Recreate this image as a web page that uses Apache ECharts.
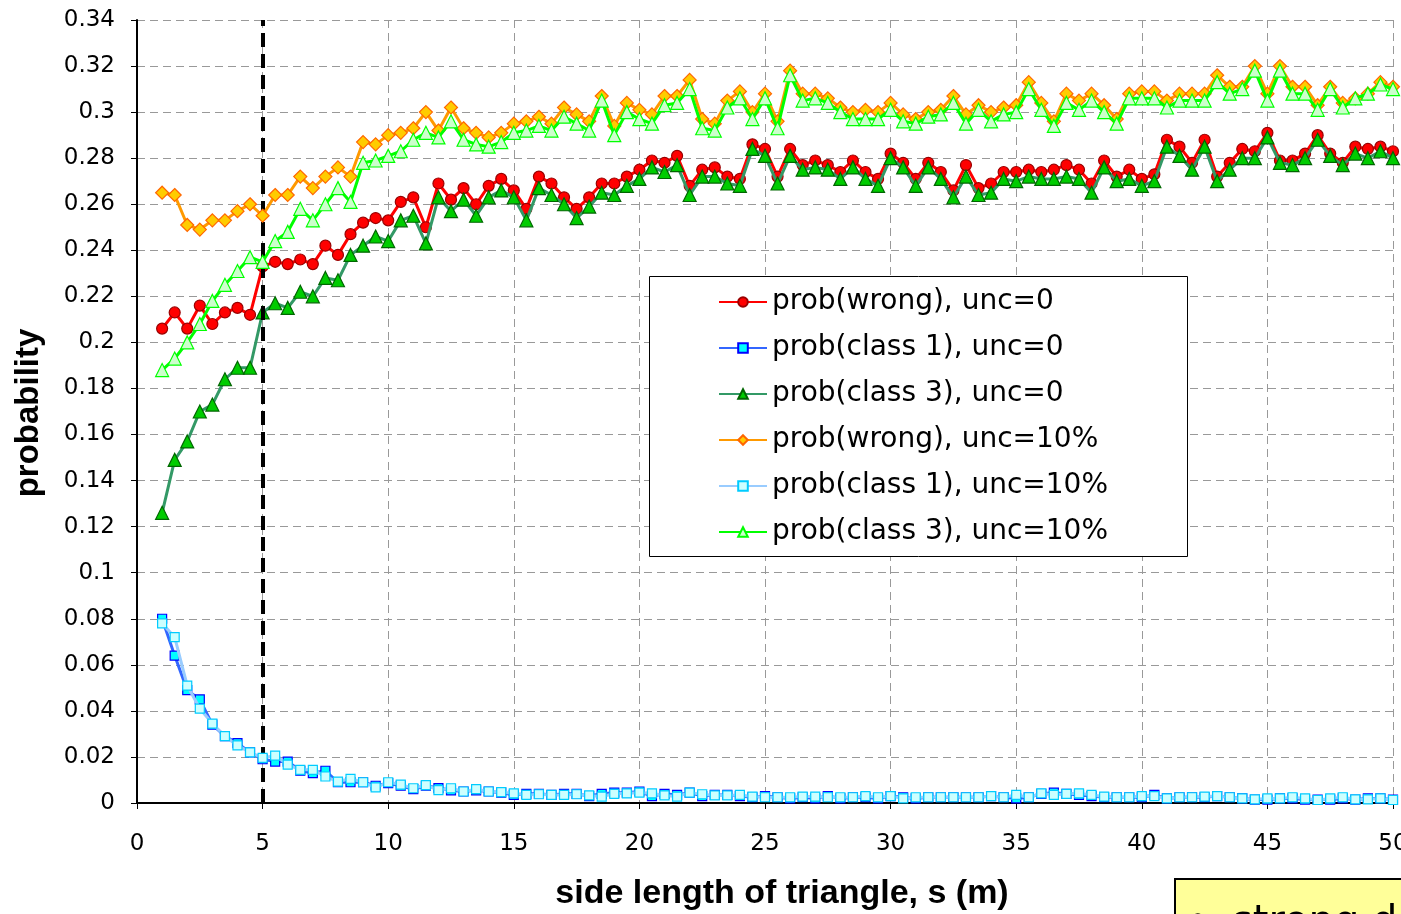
<!DOCTYPE html>
<html>
<head>
<meta charset="utf-8">
<script src="https://cdn.jsdelivr.net/npm/echarts@6/dist/echarts.min.js"></script>
<style>
html,body{margin:0;padding:0;background:#fff;overflow:hidden;}
#chart{width:1401px;height:914px;}
</style>
</head>
<body>
<div id="chart"></div>
<script>
// side length s (m)
var sideLength = [
  1,1.5,2,2.5,3,3.5,4,4.5,5,5.5,
  6,6.5,7,7.5,8,8.5,9,9.5,10,10.5,
  11,11.5,12,12.5,13,13.5,14,14.5,15,15.5,
  16,16.5,17,17.5,18,18.5,19,19.5,20,20.5,
  21,21.5,22,22.5,23,23.5,24,24.5,25,25.5,
  26,26.5,27,27.5,28,28.5,29,29.5,30,30.5,
  31,31.5,32,32.5,33,33.5,34,34.5,35,35.5,
  36,36.5,37,37.5,38,38.5,39,39.5,40,40.5,
  41,41.5,42,42.5,43,43.5,44,44.5,45,45.5,
  46,46.5,47,47.5,48,48.5,49,49.5,50
];
var wrongUnc0 = [
  0.206,0.213,0.206,0.216,0.208,0.213,0.215,0.212,0.233,0.235,
  0.234,0.236,0.234,0.242,0.238,0.247,0.252,0.254,0.253,0.261,
  0.263,0.250,0.269,0.262,0.267,0.260,0.268,0.271,0.266,0.258,
  0.272,0.269,0.263,0.258,0.263,0.269,0.269,0.272,0.275,0.279,
  0.278,0.281,0.268,0.275,0.276,0.272,0.271,0.286,0.284,0.272,
  0.284,0.277,0.279,0.277,0.274,0.279,0.274,0.271,0.282,0.278,
  0.271,0.278,0.274,0.266,0.277,0.267,0.269,0.274,0.274,0.275,
  0.274,0.275,0.277,0.275,0.269,0.279,0.272,0.275,0.271,0.273,
  0.288,0.285,0.278,0.288,0.272,0.278,0.284,0.283,0.291,0.279,
  0.279,0.282,0.290,0.282,0.278,0.285,0.284,0.285,0.283
];
var class1Unc0 = [
  0.080,0.064,0.049,0.045,0.034,0.029,0.026,0.022,0.019,0.018,
  0.018,0.014,0.013,0.014,0.009,0.009,0.009,0.0075,0.0086,0.0075,
  0.006,0.0075,0.0065,0.0055,0.005,0.0055,0.005,0.0045,0.0035,0.004,
  0.004,0.0035,0.004,0.004,0.003,0.004,0.0045,0.0045,0.005,0.003,
  0.004,0.0035,0.0045,0.003,0.0035,0.0035,0.003,0.0025,0.003,0.0025,
  0.002,0.0025,0.002,0.003,0.002,0.0025,0.0025,0.002,0.003,0.0025,
  0.002,0.0025,0.0025,0.0025,0.0025,0.0025,0.003,0.0025,0.002,0.0025,
  0.004,0.0045,0.004,0.0035,0.003,0.0025,0.0025,0.0025,0.0025,0.0035,
  0.002,0.0025,0.0025,0.0025,0.003,0.0025,0.002,0.0015,0.0015,0.002,
  0.002,0.0015,0.0015,0.0015,0.002,0.0015,0.002,0.002,0.0015
];
var class3Unc0 = [
  0.126,0.149,0.157,0.170,0.173,0.184,0.189,0.189,0.213,0.217,
  0.215,0.222,0.220,0.228,0.227,0.238,0.242,0.246,0.244,0.253,
  0.255,0.243,0.263,0.257,0.262,0.255,0.263,0.266,0.263,0.253,
  0.267,0.264,0.260,0.254,0.259,0.265,0.264,0.268,0.271,0.276,
  0.274,0.277,0.264,0.272,0.272,0.269,0.268,0.284,0.281,0.269,
  0.281,0.275,0.276,0.275,0.271,0.276,0.271,0.268,0.280,0.276,
  0.268,0.276,0.271,0.263,0.272,0.264,0.265,0.271,0.270,0.272,
  0.271,0.271,0.272,0.271,0.265,0.276,0.270,0.271,0.268,0.270,
  0.285,0.281,0.275,0.285,0.270,0.275,0.280,0.280,0.289,0.278,
  0.277,0.280,0.288,0.281,0.277,0.282,0.280,0.283,0.280
];
var wrongUnc10 = [
  0.265,0.264,0.251,0.249,0.253,0.253,0.257,0.260,0.255,0.264,
  0.264,0.272,0.267,0.272,0.276,0.272,0.287,0.286,0.290,0.291,
  0.293,0.300,0.292,0.302,0.293,0.291,0.289,0.291,0.295,0.296,
  0.298,0.295,0.302,0.299,0.296,0.307,0.294,0.304,0.301,0.299,
  0.307,0.307,0.314,0.297,0.295,0.305,0.309,0.300,0.308,0.296,
  0.318,0.308,0.308,0.306,0.302,0.300,0.301,0.300,0.304,0.299,
  0.297,0.300,0.301,0.307,0.299,0.303,0.300,0.302,0.303,0.313,
  0.304,0.296,0.308,0.305,0.308,0.303,0.297,0.308,0.309,0.309,
  0.305,0.308,0.308,0.308,0.316,0.311,0.311,0.320,0.308,0.320,
  0.311,0.311,0.303,0.311,0.304,0.306,0.308,0.313,0.311
];
var class1Unc10 = [
  0.078,0.072,0.051,0.041,0.0345,0.029,0.025,0.022,0.0196,0.0206,
  0.0167,0.0144,0.0144,0.0115,0.0093,0.0105,0.009,0.0068,0.009,0.008,
  0.0064,0.0078,0.0056,0.0064,0.005,0.006,0.005,0.0047,0.0042,0.0035,
  0.0038,0.0035,0.0035,0.0038,0.0033,0.0028,0.004,0.0042,0.0045,0.0042,
  0.0033,0.0028,0.0045,0.0038,0.0033,0.0033,0.0035,0.0028,0.0025,0.0025,
  0.0025,0.0028,0.0028,0.0025,0.0025,0.0025,0.003,0.0025,0.003,0.002,
  0.0025,0.0025,0.0025,0.0025,0.0025,0.0025,0.003,0.0025,0.0035,0.0025,
  0.0042,0.0035,0.004,0.0042,0.0035,0.0028,0.0025,0.0025,0.003,0.003,
  0.002,0.0025,0.0025,0.0028,0.003,0.0025,0.002,0.0016,0.002,0.002,
  0.0025,0.002,0.0013,0.002,0.0025,0.0016,0.0016,0.002,0.0013
];
var class3Unc10 = [
  0.188,0.193,0.200,0.208,0.218,0.225,0.231,0.237,0.235,0.244,
  0.248,0.258,0.253,0.260,0.267,0.261,0.278,0.279,0.281,0.283,
  0.288,0.291,0.289,0.296,0.288,0.286,0.285,0.287,0.291,0.292,
  0.294,0.292,0.298,0.295,0.292,0.305,0.290,0.300,0.297,0.295,
  0.303,0.304,0.310,0.293,0.292,0.302,0.306,0.297,0.306,0.293,
  0.316,0.305,0.306,0.304,0.300,0.297,0.297,0.297,0.301,0.296,
  0.295,0.298,0.299,0.304,0.295,0.301,0.296,0.299,0.300,0.310,
  0.301,0.294,0.304,0.301,0.305,0.300,0.295,0.306,0.306,0.306,
  0.302,0.305,0.305,0.305,0.313,0.308,0.310,0.318,0.305,0.318,
  0.308,0.308,0.301,0.310,0.302,0.306,0.308,0.312,0.310
];
var seriesNames = [
  'prob(wrong), unc=0','prob(class 1), unc=0','prob(class 3), unc=0',
  'prob(wrong), unc=10%','prob(class 1), unc=10%','prob(class 3), unc=10%'
];
var thresholdS = 5;

function pairs(vals){ return sideLength.map(function(x,i){ return [x, vals[i]]; }); }

var styles = [
  {symbol:'circle', size:11, fill:'#FF0000', border:'#990000', line:'#FF0000'},
  {symbol:'rect', size:9, fill:'#00FFFF', border:'#0000FF', line:'#3366FF'},
  {symbol:'triangle', size:13, fill:'#00CC00', border:'#006600', line:'#339966'},
  {symbol:'diamond', size:13, fill:'#FFCC00', border:'#FF6600', line:'#FF9900'},
  {symbol:'rect', size:9, fill:'#CCFFFF', border:'#00CCFF', line:'#99CCFF'},
  {symbol:'triangle', size:13, fill:'#CCFFCC', border:'#00FF00', line:'#00FF00'}
];
var allData = [wrongUnc0, class1Unc0, class3Unc0, wrongUnc10, class1Unc10, class3Unc10];

var series = allData.map(function(d, i){
  var st = styles[i];
  return {
    name: seriesNames[i], type:'line', data: pairs(d),
    symbol: st.symbol, symbolSize: st.size, showAllSymbol: true,
    lineStyle:{color: st.line, width:3},
    itemStyle:{color: st.fill, borderColor: st.border, borderWidth:1.2},
    emphasis:{disabled:true}, z: 2 + i
  };
});
series.push({
  type:'line', data:[], silent:true, z:20,
  markLine:{
    silent:true, symbol:['none','none'], animation:false,
    label:{show:false},
    lineStyle:{color:'#000', width:4, type:[14,7]},
    data:[{xAxis: thresholdS}]
  }
});

var chart = echarts.init(document.getElementById('chart'), null, {renderer:'canvas'});
chart.setOption({
  animation:false,
  backgroundColor:'#fff',
  grid:{left:137, right:8, top:20, bottom:111, containLabel:false, outerBoundsMode:'none'},
  xAxis:{
    type:'value', min:0, max:50, interval:5,
    axisLine:{show:true, onZero:false, lineStyle:{color:'#000', width:2}},
    axisTick:{show:true, length:6, lineStyle:{color:'#000', width:1}},
    axisLabel:{color:'#000', fontFamily:'DejaVu Sans', fontSize:23, margin:30, hideOverlap:false},
    splitLine:{show:true, lineStyle:{color:'#999', width:1, type:[8,5]}}
  },
  yAxis:{
    type:'value', min:0, max:0.34, interval:0.02,
    axisLine:{show:true, lineStyle:{color:'#000', width:2}},
    axisTick:{show:true, length:6, lineStyle:{color:'#000', width:1}},
    axisLabel:{color:'#000', fontFamily:'DejaVu Sans', fontSize:23, margin:22,
      formatter:function(v){ return String(Number(v.toFixed(2))); }},
    splitLine:{show:true, lineStyle:{color:'#999', width:1, type:[8,5]}}
  },
  legend:{
    data: seriesNames, orient:'vertical', left:718, top:287,
    itemWidth:48, itemHeight:12, itemGap:16, padding:0,
    textStyle:{color:'#000', fontFamily:'DejaVu Sans', fontSize:28, lineHeight:30},
    selectedMode:false
  },
  graphic:[
    {type:'rect', z:1, silent:true, shape:{x:649.5, y:276.5, width:538, height:280},
      style:{fill:'#fff', stroke:'#000', lineWidth:1}},
    {type:'text', silent:true, x:29, y:413, rotation:Math.PI/2,
      style:{text:'probability', font:'bold 33px "Liberation Sans"', fill:'#000', align:'center', verticalAlign:'middle'}},
    {type:'text', silent:true, x:782, y:894,
      style:{text:'side length of triangle, s (m)', font:'bold 34px "Liberation Sans"', fill:'#000', align:'center', verticalAlign:'middle'}},
    {type:'rect', silent:true, shape:{x:1175, y:879, width:260, height:80},
      style:{fill:'#FFFF99', stroke:'#000', lineWidth:2}},
    {type:'text', silent:true, x:1186, y:924,
      style:{text:'\u2022', font:'40px "DejaVu Sans"', fill:'#000', align:'left', verticalAlign:'middle'}},
    {type:'text', silent:true, x:1232, y:924,
      style:{text:'strong d', font:'40px "DejaVu Sans"', fill:'#000', align:'left', verticalAlign:'middle'}}
  ],
  series: series
});
</script>
</body>
</html>
